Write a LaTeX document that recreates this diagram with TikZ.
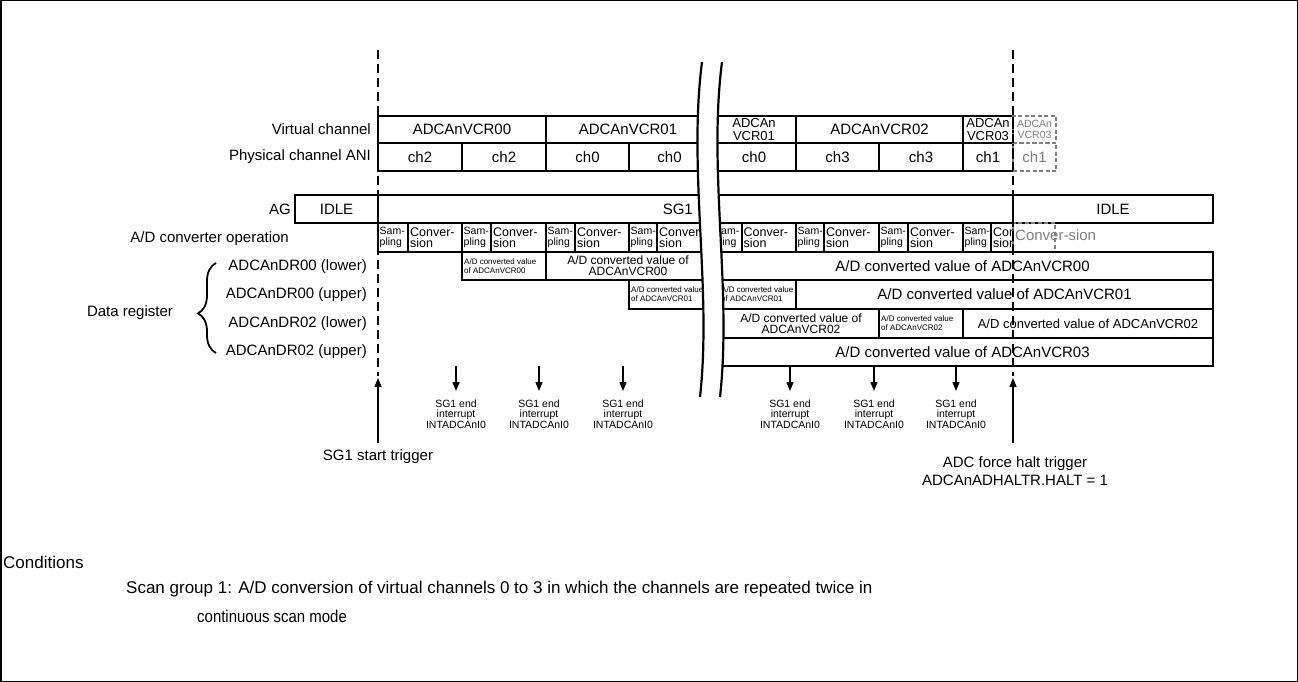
\documentclass[tikz,border=0pt]{standalone}
\usepackage{fontspec}
\setmainfont{Liberation Sans}
\usetikzlibrary{arrows.meta,decorations.pathreplacing}
\newcommand{\fsz}[2]{\fontsize{#1}{#2}\selectfont}
\newcommand{\mkcell}[7][]{\node[bx,minimum width={(#5-#3)*1pt},minimum height={(#6-#4)*1pt},#1] (#2) at ({(#3+#5)/2},{(#4+#6)/2}) {#7};}
\tikzset{
  bx/.style={draw, line width=2pt, inner sep=0pt, outer sep=0pt, align=center, font=\fsz{15}{16}},
  gbx/.style={draw=gray, dash pattern=on 4pt off 2.5pt, line width=2pt, text=gray},
  lbl/.style={inner sep=0pt, font=\fsz{15}{16}},
  smalltxt/.style={inner sep=0pt, align=left, font=\fsz{8}{9}},
  medtxt/.style={inner sep=0pt, align=center, font=\fsz{12}{11}},
  samtxt/.style={inner sep=0pt, align=left, font=\fsz{10.5}{11}},
  convtxt/.style={inner sep=0pt, align=left, font=\fsz{12.5}{11.5}},
  intxt/.style={inner sep=0pt, align=center, font=\fsz{10.5}{10.5}},
  condtxt/.style={inner sep=0pt, font=\fsz{17}{18}},
  vdash/.style={line width=2.4pt, dash pattern=on 9pt off 5pt},
  brk/.style={line width=2.2pt},
  arr/.style={line width=1.4pt, -{Triangle[length=9pt,width=7pt]}},
}
\begin{document}
\begin{tikzpicture}[x=1pt,y=-1pt]
\useasboundingbox (0,0) rectangle (1298,682);
\draw[line width=1.5pt] (0.75,0.75) rectangle (1297.25,681.25);

% row labels
\node[lbl,anchor=east] (lvc) at (371,129.5) {Virtual channel};
\node[lbl,anchor=east] (lpc) at (371,157) {Physical channel ANI};
\node[lbl,anchor=east] (lag) at (291,209) {AG};
\node[lbl,anchor=east] (lop) at (289,239) {A/D converter operation};
\node[lbl,anchor=east] (ld0) at (367,267) {ADCAnDR00 (lower)};
\node[lbl,anchor=east] (ld1) at (367,295) {ADCAnDR00 (upper)};
\node[lbl,anchor=east] (ld2) at (367,324) {ADCAnDR02 (lower)};
\node[lbl,anchor=east] (ld3) at (367,352) {ADCAnDR02 (upper)};
\node[lbl] (ldr) at (130,313) {Data register};
\coordinate (brb) at (216,353);
\coordinate (brt) at (216,263);
\draw[line width=1.8pt, decoration={brace, amplitude=18pt, aspect=0.44}, decorate] (brb) -- (brt);

% virtual channel row
\mkcell{v0}{378}{116}{546}{143}{ADCAnVCR00}
\mkcell{v1}{546}{116}{710}{143}{ADCAnVCR01}
\mkcell[font=\fsz{13}{13}]{v2}{712}{116}{796}{143}{ADCAn\\VCR01}
\mkcell{v3}{796}{116}{963}{143}{ADCAnVCR02}
\mkcell[font=\fsz{13}{13}]{v4}{963}{116}{1013}{143}{ADCAn\\VCR03}
\mkcell[gbx,font=\fsz{10.5}{11}]{v5}{1013}{116}{1056}{143}{ADCAn\\VCR03}

% physical channel row
\mkcell{p0}{378}{143}{462}{171}{ch2}
\mkcell{p1}{462}{143}{546}{171}{ch2}
\mkcell{p2}{546}{143}{629}{171}{ch0}
\mkcell{p3}{629}{143}{710}{171}{ch0}
\mkcell{p4}{712}{143}{796}{171}{ch0}
\mkcell{p5}{796}{143}{879}{171}{ch3}
\mkcell{p6}{879}{143}{963}{171}{ch3}
\mkcell{p7}{963}{143}{1013}{171}{ch1}
\mkcell[gbx]{p8}{1013}{143}{1056}{171}{ch1}

% AG row
\mkcell{ag0}{295}{195}{378}{223}{IDLE}
\mkcell{ag1}{378}{195}{710}{223}{}
\node[lbl,anchor=east] (ag1t) at (693,209) {SG1};
\mkcell{ag2}{712}{195}{1013}{223}{}
\mkcell{ag3}{1013}{195}{1213}{223}{IDLE}

% A/D converter operation row
\mkcell{s1}{378}{223}{408}{252}{}
\mkcell{c1}{408}{223}{462}{252}{}
\mkcell{s2}{462}{223}{491}{252}{}
\mkcell{c2}{491}{223}{546}{252}{}
\mkcell{s3}{546}{223}{575}{252}{}
\mkcell{c3}{575}{223}{629}{252}{}
\mkcell{s4}{629}{223}{657}{252}{}
\mkcell{c4}{657}{223}{710}{252}{}
\mkcell{s5}{712.5}{223}{741.5}{252}{}
\mkcell{c5}{741.5}{223}{796}{252}{}
\mkcell{s6}{796}{223}{824}{252}{}
\mkcell{c6}{824}{223}{879}{252}{}
\mkcell{s7}{879}{223}{908}{252}{}
\mkcell{c7}{908}{223}{963}{252}{}
\mkcell{s8}{963}{223}{991}{252}{}
\mkcell{c8}{991}{223}{1013}{252}{}
\mkcell[gbx]{c9}{1013}{223}{1055}{252}{}
\foreach \n/\x in {s1/379.5,s2/463.5,s3/547.5,s4/630.5,s5/714,s6/797.5,s7/880.5,s8/964.5}{
  \node[samtxt,anchor=west] (\n t) at (\x,237.5) {Sam-\\pling};
}
\foreach \n/\x in {c1/410,c2/493,c3/577,c4/659,c5/743.5,c6/826,c7/910}{
  \node[convtxt,anchor=west] (\n t) at (\x,237.5) {Conver-\\sion};
}
\begin{scope}
  \clip (991,223) rectangle (1013,252);
  \node[convtxt,anchor=west] (c8t) at (993,237.5) {Conver-\\sion};
\end{scope}
\node[lbl,anchor=west,text=gray] (c9t) at (1015,235) {Conver-sion};

% data register rows
\mkcell{a1}{462}{252}{546}{280}{}
\node[smalltxt,anchor=west] (a1t) at (464,266) {A/D converted value\\of ADCAnVCR00};
\mkcell[font=\fsz{12}{11}]{a2}{546}{252}{710}{280}{A/D converted value of\\ADCAnVCR00}
\mkcell{a3}{712}{252}{1213}{280}{A/D converted value of ADCAnVCR00}

\mkcell{b1}{629}{280}{710}{309}{}
\node[smalltxt,anchor=west] (b1t) at (631,294.5) {A/D converted value\\of ADCAnVCR01};
\mkcell{b2}{712}{280}{796}{309}{}
\node[smalltxt,anchor=west] (b2t) at (721,294.5) {A/D converted value\\of ADCAnVCR01};
\mkcell{b3}{796}{280}{1213}{309}{A/D converted value of ADCAnVCR01}

\mkcell{e1}{712}{309}{879}{338}{}
\node[medtxt] (e1t) at (801,323.5) {A/D converted value of\\ADCAnVCR02};
\mkcell{e2}{879}{309}{963}{338}{}
\node[smalltxt,anchor=west] (e2t) at (881,323.5) {A/D converted value\\of ADCAnVCR02};
\mkcell[font=\fsz{13}{14}]{e3}{963}{309}{1213}{338}{A/D converted value of ADCAnVCR02}

\mkcell{f1}{712}{338}{1213}{366}{A/D converted value of ADCAnVCR03}

% break lines
\fill[white] (702,62) .. controls (688,170) and (712,290) .. (700,397) -- (720,397) .. controls (732,290) and (708,170) .. (722,62) -- cycle;
\draw[brk] (702,62) .. controls (688,170) and (712,290) .. (700,397);
\draw[brk] (722,62) .. controls (708,170) and (732,290) .. (720,397);

% dashed trigger lines
\coordinate (dl0) at (378,50);
\coordinate (dl1) at (378,376);
\coordinate (dr0) at (1013,50);
\coordinate (dr1) at (1013,376);
\draw[vdash] (dl0) -- (dl1);
\draw[vdash] (dr0) -- (dr1);

% triggers
\coordinate (st0) at (378,443);
\coordinate (st1) at (378,378);
\draw[arr] (st0) -- (st1);
\node[lbl] (stl) at (378,457) {SG1 start trigger};
\coordinate (ht0) at (1013,443);
\coordinate (ht1) at (1013,378);
\draw[arr] (ht0) -- (ht1);
\node[lbl,align=center,font=\fsz{15}{18}] (htl) at (1015,471) {ADC force halt trigger\\ADCAnADHALTR.HALT = 1};

% end interrupts
\foreach \i/\x in {1/456,2/539,3/623,4/790,5/874,6/956}{
  \coordinate (ia\i) at (\x,366);
  \coordinate (ib\i) at (\x,391);
  \draw[arr] (ia\i) -- (ib\i);
  \node[intxt] (it\i) at (\x,414) {SG1 end\\interrupt\\INTADCAnI0};
}

% conditions
\node[condtxt,anchor=west] (cd0) at (3,562) {Conditions};
\node[condtxt,anchor=west] (cd1) at (126,589) {Scan group 1: A/D conversion of virtual channels 0 to 3 in which the channels are repeated twice in};
\node[condtxt,anchor=west] (cd2) at (197,616) {\scalebox{0.88}[1]{continuous scan mode}};
\end{tikzpicture}
\end{document}
